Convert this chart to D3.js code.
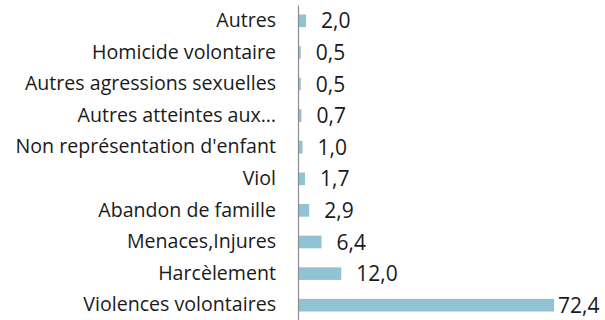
<!DOCTYPE html>
<html>
<head>
<meta charset="utf-8">
<script src="https://cdn.jsdelivr.net/npm/d3@7"></script>
<style>
  html, body { margin: 0; padding: 0; background: #fff; }
  svg { display: block; }
</style>
</head>
<body>
<svg id="chart" width="605" height="320"></svg>
<script>
// Répartition des infractions (%)
const categories = [
  "Autres",
  "Homicide volontaire",
  "Autres agressions sexuelles",
  "Autres atteintes aux…",
  "Non représentation d'enfant",
  "Viol",
  "Abandon de famille",
  "Menaces,Injures",
  "Harcèlement",
  "Violences volontaires"
];
const values = [2.0, 0.5, 0.5, 0.7, 1.0, 1.7, 2.9, 6.4, 12.0, 72.4];

const W = 605, H = 320;
const margin = { top: 5, right: 51, bottom: 0, left: 299 };
const fontFamily = "'Open Sans', 'Liberation Sans', sans-serif";

const svg = d3.select("#chart");

const x = d3.scaleLinear()
  .domain([0, d3.max(values)])
  .range([margin.left, W - margin.right]);

const y = d3.scaleBand()
  .domain(categories)
  .range([margin.top, H + 1])
  .paddingInner(0.6)
  .paddingOuter(0.3);

const fmt = v => d3.format(".1f")(v).replace(".", ",");

// Barres
svg.append("g")
  .selectAll("rect")
  .data(values)
  .join("rect")
  .attr("x", x(0))
  .attr("y", (d, i) => y(categories[i]))
  .attr("width", d => x(d) - x(0))
  .attr("height", y.bandwidth())
  .attr("fill", "#92C3D5");

// Axe vertical des catégories
const yAxis = d3.axisLeft(y).tickSize(0).tickPadding(22);
const gAxis = svg.append("g")
  .attr("transform", `translate(${x(0) - 1},0)`)
  .call(yAxis);
gAxis.select(".domain")
  .attr("stroke", "#8c8c8c")
  .attr("stroke-width", 1.2);
gAxis.selectAll("text")
  .attr("font-family", fontFamily)
  .attr("font-size", 19.6)
  .attr("fill", "#1a1a1a");

// Étiquettes de valeurs
svg.append("g")
  .selectAll("text")
  .data(values)
  .join("text")
  .attr("x", d => Math.min(x(d) + 15, 558))
  .attr("y", (d, i) => y(categories[i]) + y.bandwidth() / 2)
  .attr("dy", "0.36em")
  .attr("font-family", fontFamily)
  .attr("font-size", 21)
  .attr("fill", "#1a1a1a")
  .text(fmt);
</script>
</body>
</html>
